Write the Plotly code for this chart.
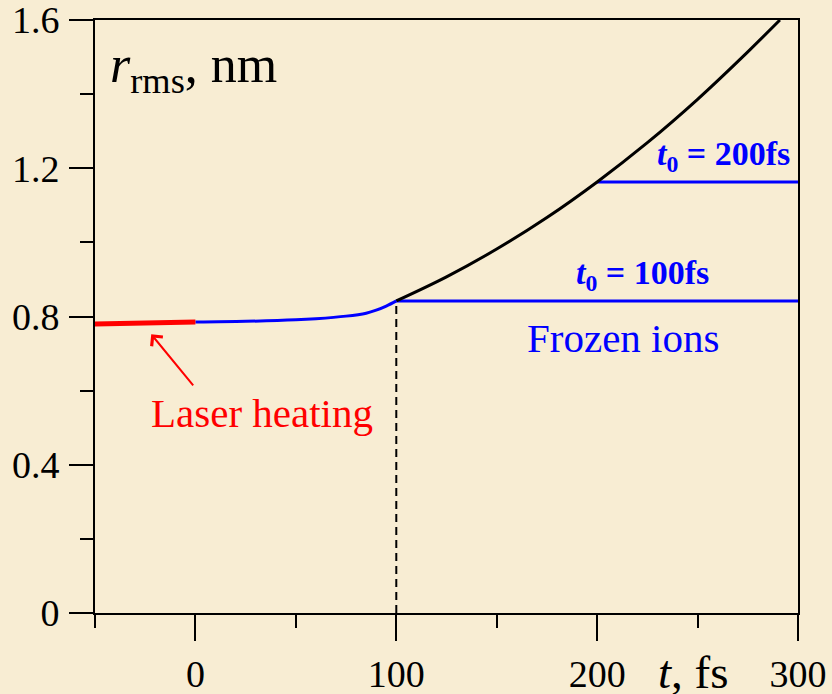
import plotly.graph_objects as go

# Laser heating stage (t < 0)
heat_t = [-50, -25, 0]
heat_r = [0.780, 0.782, 0.785]

# Expansion up to t0 = 100 fs (ions mobile)
exp_t = [0, 25, 50, 60, 75, 85, 90, 95, 100]
exp_r = [0.785, 0.787, 0.791, 0.794, 0.801, 0.809, 0.817, 0.828, 0.842]

# Free expansion after 100 fs
free_t = [100, 125, 150, 175, 200, 225, 250, 275, 291]
free_r = [0.842, 0.907, 0.982, 1.067, 1.163, 1.269, 1.386, 1.514, 1.600]

# Frozen-ion plateaus
frozen100_t = [100, 300]
frozen100_r = [0.842, 0.842]
frozen200_t = [200, 300]
frozen200_r = [1.163, 1.163]

x_major = [0, 100, 200, 300]
x_labels = ["0", "100", "200", "300"]
y_major = [0, 0.4, 0.8, 1.2, 1.6]
y_labels = ["0", "0.4", "0.8", "1.2", "1.6"]

SERIF = "Liberation Serif, Times New Roman, serif"
BG = "#F8EDD3"

fig = go.Figure()

fig.add_trace(go.Scatter(x=[100, 100], y=[0, frozen100_r[0]], mode="lines",
                         line=dict(color="black", width=2, dash="8px,5px")))
fig.add_trace(go.Scatter(x=frozen100_t, y=frozen100_r, mode="lines",
                         line=dict(color="#0000FF", width=3)))
fig.add_trace(go.Scatter(x=frozen200_t, y=frozen200_r, mode="lines",
                         line=dict(color="#0000FF", width=3)))
fig.add_trace(go.Scatter(x=free_t, y=free_r, mode="lines", line_shape="spline",
                         line=dict(color="black", width=3)))
fig.add_trace(go.Scatter(x=exp_t, y=exp_r, mode="lines", line_shape="spline",
                         line=dict(color="#0000FF", width=3)))
fig.add_trace(go.Scatter(x=heat_t, y=heat_r, mode="lines",
                         line=dict(color="#FF0000", width=5)))

annotations = []
# Axis titles
annotations.append(dict(xref="paper", yref="y", x=0.018, y=1.47, xanchor="left", yanchor="middle",
                        text="<i>r</i><sub>rms</sub>, nm", showarrow=False,
                        font=dict(family=SERIF, size=52, color="black")))
annotations.append(dict(xref="paper", yref="paper", x=0.798, y=-0.099, xanchor="left", yanchor="middle",
                        text="<i>t</i>, fs", showarrow=False,
                        font=dict(family=SERIF, size=47, color="black")))
# Curve labels
annotations.append(dict(x=297, y=1.232, xanchor="right", yanchor="middle",
                        text="<b><i>t</i><sub>0</sub> = 200fs</b>", showarrow=False,
                        font=dict(family=SERIF, size=34, color="#0000FF")))
annotations.append(dict(x=256.5, y=0.912, xanchor="right", yanchor="middle",
                        text="<b><i>t</i><sub>0</sub> = 100fs</b>", showarrow=False,
                        font=dict(family=SERIF, size=34, color="#0000FF")))
annotations.append(dict(x=213.0, y=0.742, xanchor="center", yanchor="middle",
                        text="Frozen ions", showarrow=False,
                        font=dict(family=SERIF, size=41, color="#0000FF")))
annotations.append(dict(x=33.0, y=0.54, xanchor="center", yanchor="middle",
                        text="Laser heating", showarrow=False,
                        font=dict(family=SERIF, size=41, color="#FF0000")))
# Arrow pointing at the heating segment
annotations.append(dict(x=-22, y=0.752, ax=-0.5, ay=0.61, axref="x", ayref="y",
                        text="", showarrow=True, arrowhead=4, arrowsize=1.4,
                        arrowwidth=2, arrowcolor="#FF0000"))

axis_common = dict(showline=True, linecolor="black", linewidth=2, mirror=True,
                   ticks="outside", tickcolor="black", tickwidth=2,
                   showgrid=False, zeroline=False, automargin=False,
                   ticklabeloverflow="allow",
                   tickfont=dict(family=SERIF, size=38, color="black"))

fig.update_layout(
    width=832, height=694,
    margin=dict(l=95, r=34, t=20, b=81, autoexpand=False),
    paper_bgcolor=BG, plot_bgcolor=BG,
    showlegend=False,
    annotations=annotations,
    xaxis=dict(range=[-50, 300], tickvals=x_major, ticktext=x_labels, ticklen=26,
               minor=dict(ticks="outside", ticklen=13, tickwidth=2, tickcolor="black",
                          tickvals=[-50, 50, 150, 250]),
               ticklabelstandoff=0, **axis_common),
    yaxis=dict(range=[0, 1.6], tickvals=y_major, ticktext=y_labels, ticklen=24,
               minor=dict(ticks="outside", ticklen=13, tickwidth=2, tickcolor="black",
                          tickvals=[0.2, 0.6, 1.0, 1.4]),
               ticklabelstandoff=2, **axis_common),
)

fig.write_html("out.html")
